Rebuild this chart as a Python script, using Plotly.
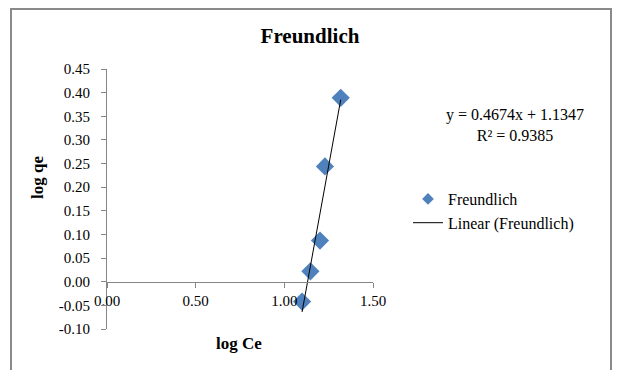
import numpy as np
import plotly.graph_objects as go

# Data
log_ce = [1.100, 1.147, 1.201, 1.229, 1.318]
log_qe = [-0.042, 0.022, 0.087, 0.244, 0.389]
x_ticks = [0.0, 0.5, 1.0, 1.5]
x_tick_labels = ["0.00", "0.50", "1.00", "1.50"]
y_ticks = [-0.10, -0.05, 0.0, 0.05, 0.10, 0.15, 0.20, 0.25, 0.30, 0.35, 0.40, 0.45]
y_tick_labels = ["-0.10", "-0.05", "0.00", "0.05", "0.10", "0.15", "0.20", "0.25",
                 "0.30", "0.35", "0.40", "0.45"]
equation_text = "y = 0.4674x + 1.1347<br>R² = 0.9385"

# Linear trendline fitted from the data
slope, intercept = np.polyfit(log_ce, log_qe, 1)
fit_x = np.array([min(log_ce), max(log_ce)])
fit_y = slope * fit_x + intercept

FONT = "Liberation Serif"
BLUE = "#4F81BD"

fig = go.Figure()
fig.add_trace(go.Scatter(
    x=log_ce, y=log_qe, mode="markers", name="Freundlich", showlegend=False,
    marker=dict(symbol="diamond", size=14, color=BLUE),
))
fig.add_trace(go.Scatter(
    x=[None], y=[None], mode="markers", name="Freundlich",
    marker=dict(symbol="diamond", size=9, color=BLUE),
))
fig.add_trace(go.Scatter(
    x=fit_x, y=fit_y, mode="lines", name="Linear (Freundlich)",
    line=dict(color="black", width=1),
))

L, R, T, B = 107, 246, 69, 41
W, H = 619, 370
pw, ph = W - L - R, H - T - B

def px(xp):
    return (xp - L) / pw

def py(yp):
    return (H - B - yp) / ph

y_range = [-0.10, 0.45]
zero_pos = (0 - y_range[0]) / (y_range[1] - y_range[0])

fig.update_layout(
    width=W, height=H,
    margin=dict(l=L, r=R, t=T, b=B),
    paper_bgcolor="white", plot_bgcolor="white",
    font=dict(family=FONT, size=15, color="black"),
    title=dict(text="<b>Freundlich</b>", xref="container", x=310 / W, xanchor="center",
               yref="container", y=1 - 36 / H, yanchor="middle",
               font=dict(family=FONT, size=21, color="black")),
    xaxis=dict(range=[0, 1.5], tickvals=x_ticks, ticktext=x_tick_labels,
               showgrid=False, zeroline=False, showline=True,
               linecolor="#868686", linewidth=1, ticks="outside", ticklen=5,
               tickcolor="#868686", anchor="free", position=zero_pos,
               tickfont=dict(family=FONT, size=15, color="black")),
    yaxis=dict(range=y_range, tickvals=y_ticks, ticktext=y_tick_labels,
               showgrid=False, zeroline=False, showline=True,
               linecolor="#868686", linewidth=1, ticks="outside", ticklen=5,
               tickcolor="#868686", ticklabelstandoff=8,
               tickfont=dict(family=FONT, size=15, color="black")),
    legend=dict(x=px(408), y=py(182), xanchor="left", yanchor="top",
                bgcolor="rgba(0,0,0,0)", font=dict(family=FONT, size=16, color="black"),
                tracegroupgap=0, itemwidth=30),
    showlegend=True,
)

fig.add_annotation(text=equation_text, x=px(515), y=py(125), xref="paper", yref="paper",
                   xanchor="center", yanchor="middle",
                   showarrow=False, align="center",
                   font=dict(family=FONT, size=16, color="black"))
fig.add_annotation(text="<b>log qe</b>", x=px(37), y=py(178), xref="paper", yref="paper",
                   xanchor="center", yanchor="middle",
                   showarrow=False, textangle=-90,
                   font=dict(family=FONT, size=17, color="black"))
fig.add_annotation(text="<b>log Ce</b>", x=px(239), y=py(343), xref="paper", yref="paper",
                   xanchor="center", yanchor="middle",
                   showarrow=False,
                   font=dict(family=FONT, size=17, color="black"))

fig.add_shape(type="rect", xref="paper", yref="paper",
              x0=px(11), x1=px(611), y0=py(375), y1=py(9),
              line=dict(color="#8a8a8a", width=2), fillcolor="rgba(0,0,0,0)", layer="below")

fig.write_html("out.html")
